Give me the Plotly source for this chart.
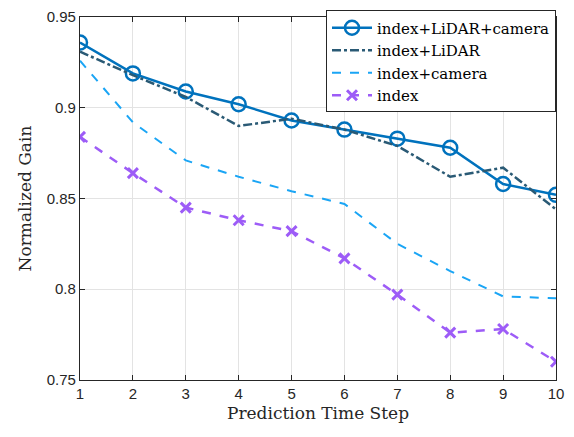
import plotly.graph_objects as go

steps = [1, 2, 3, 4, 5, 6, 7, 8, 9, 10]
lidar_camera = [0.936, 0.919, 0.909, 0.902, 0.893, 0.888, 0.883, 0.878, 0.858, 0.852]
lidar = [0.931, 0.918, 0.906, 0.890, 0.894, 0.888, 0.879, 0.862, 0.867, 0.844]
camera = [0.926, 0.892, 0.871, 0.862, 0.854, 0.847, 0.825, 0.810, 0.796, 0.795]
index_only = [0.884, 0.864, 0.845, 0.838, 0.832, 0.817, 0.797, 0.776, 0.778, 0.760]

yticks = [0.75, 0.8, 0.85, 0.9, 0.95]
ytick_text = ["0.75", "0.8", "0.85", "0.9", "0.95"]

SERIF = "DejaVu Serif"
SANS = "Liberation Sans"

fig = go.Figure()
fig.add_trace(go.Scatter(x=steps, y=lidar_camera, mode="lines+markers", name="index+LiDAR+camera",
                         line=dict(color="#0072BD", width=2.5),
                         marker=dict(symbol="circle-open", size=14, line=dict(width=2.5, color="#0072BD"))))
fig.add_trace(go.Scatter(x=steps, y=lidar, mode="lines", name="index+LiDAR",
                         line=dict(color="#2A5A75", width=2.5, dash="dashdot")))
fig.add_trace(go.Scatter(x=steps, y=camera, mode="lines", name="index+camera",
                         line=dict(color="#1AA5F5", width=2, dash="dash")))
fig.add_trace(go.Scatter(x=steps, y=index_only, mode="lines+markers", name="index",
                         line=dict(color="#9D5CF7", width=2.5, dash="dash"),
                         marker=dict(symbol="x-thin", size=10, line=dict(width=3, color="#9D5CF7"))))

axis_common = dict(showline=True, mirror="ticks", linecolor="#262626", linewidth=1.2,
                   ticks="inside", ticklen=5, tickcolor="#262626",
                   showgrid=True, gridcolor="#E3E3E3", gridwidth=1, zeroline=False,
                   tickfont=dict(family=SANS, size=15, color="#262626"))

fig.update_xaxes(range=[1, 10.0001], tickvals=steps, **axis_common,
                 title=dict(text="Prediction Time Step", font=dict(family=SERIF, size=17, color="#262626"), standoff=6))
fig.update_yaxes(range=[0.7499, 0.9501], tickvals=yticks, ticktext=ytick_text, **axis_common,
                 title=dict(text="Normalized Gain", font=dict(family=SERIF, size=17, color="#262626"), standoff=10))

fig.update_layout(width=574, height=437, margin=dict(l=80, r=18, t=8, b=57),
                  plot_bgcolor="white", paper_bgcolor="white", showlegend=True,
                  legend=dict(x=1, y=1.018, xanchor="right", yanchor="top", bordercolor="#262626", borderwidth=1,
                              bgcolor="white", font=dict(family=SERIF, size=15, color="#000"),
                              tracegroupgap=0, itemwidth=40))

fig.write_html("out.html", config={"displayModeBar": False},
               post_script="document.body.style.margin='0';")
